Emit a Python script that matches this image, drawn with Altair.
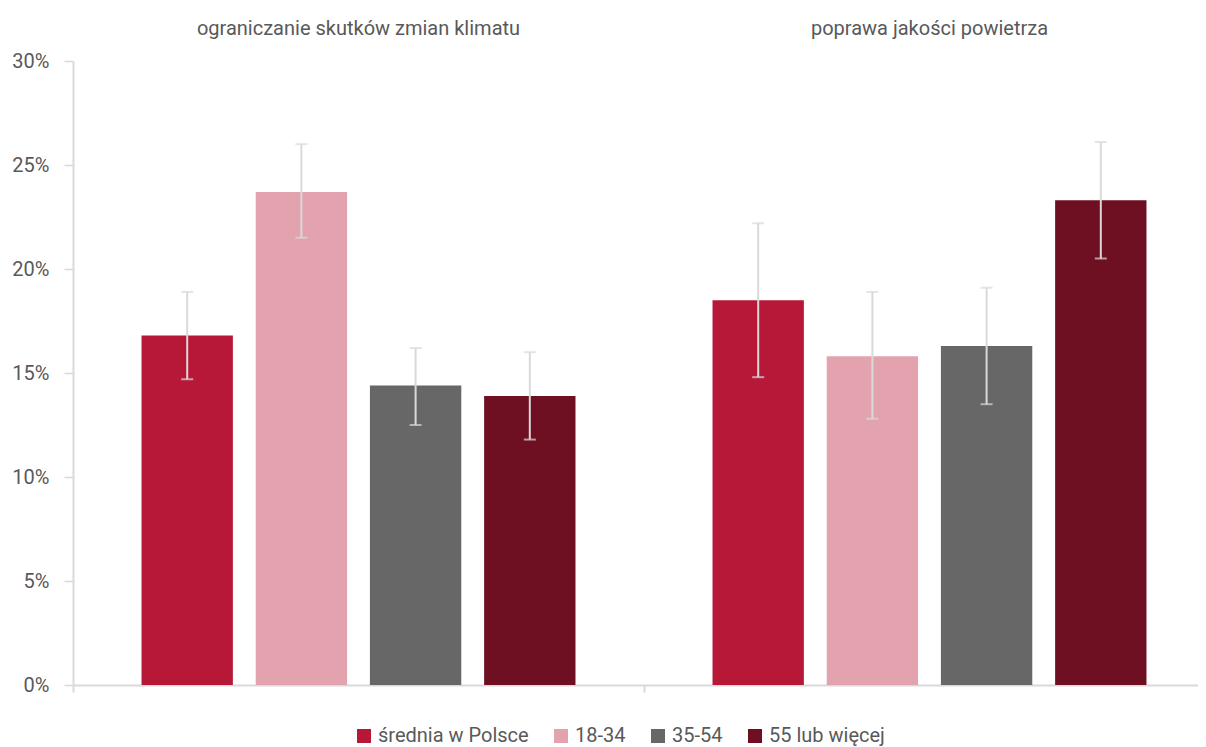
import altair as alt
import pandas as pd

groups = ["ograniczanie skutków zmian klimatu", "poprawa jakości powietrza"]
series = ["średnia w Polsce", "18-34", "35-54", "55 lub więcej"]
colors = ["#B71838", "#E2A3AF", "#676767", "#6E0F22"]

value_g1 = [16.8, 23.7, 14.4, 13.9]
low_g1 = [14.7, 21.5, 12.5, 11.8]
high_g1 = [18.9, 26.0, 16.2, 16.0]

value_g2 = [18.5, 15.8, 16.3, 23.3]
low_g2 = [14.8, 12.8, 13.5, 20.5]
high_g2 = [22.2, 18.9, 19.1, 26.1]

y_ticks = [0, 5, 10, 15, 20, 25, 30]

rows = []
for g, vals, lows, highs in [
    (groups[0], value_g1, low_g1, high_g1),
    (groups[1], value_g2, low_g2, high_g2),
]:
    for s, v, lo, hi in zip(series, vals, lows, highs):
        rows.append({"group": g, "series": s, "value": v, "low": lo, "high": hi})
df = pd.DataFrame(rows)

FONT = "Roboto"
TEXT = "#595959"
GRID = "#D9D9D9"

x_scale = alt.Scale(domain=groups, range=[0, 1142], paddingInner=0, paddingOuter=0)
xo_scale = alt.Scale(domain=series, paddingInner=0.2, paddingOuter=0.6)
y_scale = alt.Scale(domain=[0, 30], nice=False)
y_axis = alt.Axis(
    title=None, values=y_ticks, labelExpr="datum.value + '%'", grid=False,
    domainColor=GRID, domainWidth=2, tickColor=GRID, tickWidth=1.5, tickSize=9,
    labelPadding=15, labelFont=FONT, labelFontSize=20, labelColor=TEXT,
)

base = alt.Chart(df)

bars = base.mark_bar().encode(
    x=alt.X("group:N", scale=x_scale, sort=groups,
            axis=alt.Axis(orient="top", title=None, domain=False, ticks=False,
                          labelPadding=23, labelAngle=0, labelLimit=0,
                          labelFont=FONT, labelFontSize=20, labelColor=TEXT)),
    xOffset=alt.XOffset("series:N", scale=xo_scale, sort=series),
    y=alt.Y("value:Q", scale=y_scale, axis=y_axis),
    color=alt.Color("series:N", sort=series,
                    scale=alt.Scale(domain=series, range=colors),
                    legend=alt.Legend(orient="none", legendX=281, legendY=665,
                                      direction="horizontal", columns=4, title=None,
                                      symbolType="square", symbolSize=196,
                                      symbolStrokeWidth=0, labelFont=FONT,
                                      labelFontSize=20, labelColor=TEXT,
                                      columnPadding=22, labelOffset=4)),
)

rules = base.mark_rule(color=GRID, strokeWidth=2).encode(
    x=alt.X("group:N", scale=x_scale, sort=groups,
            axis=alt.Axis(orient="bottom", title=None, labels=False,
                          domainColor=GRID, domainWidth=2, tickColor=GRID,
                          tickWidth=2, tickSize=7, bandPosition=0)),
    xOffset=alt.XOffset("series:N", scale=xo_scale, sort=series),
    y=alt.Y("low:Q", scale=y_scale, axis=y_axis),
    y2="high:Q",
)

cap_hi = base.mark_tick(color=GRID, thickness=2, size=12).encode(
    x=alt.X("group:N", scale=x_scale, sort=groups, axis=None),
    xOffset=alt.XOffset("series:N", scale=xo_scale, sort=series),
    y=alt.Y("high:Q", scale=y_scale, axis=y_axis),
)
cap_lo = base.mark_tick(color=GRID, thickness=2, size=12).encode(
    x=alt.X("group:N", scale=x_scale, sort=groups, axis=None),
    xOffset=alt.XOffset("series:N", scale=xo_scale, sort=series),
    y=alt.Y("low:Q", scale=y_scale, axis=y_axis),
)

chart = (
    alt.layer(bars, rules, cap_hi, cap_lo)
    .resolve_axis(x="independent")
    .properties(
        width=1125, height=624,
        autosize=alt.AutoSizeParams(type="none"),
        padding={"left": 65, "top": 53, "right": 0, "bottom": 66},
        background="white",
    )
    .configure_view(stroke=None)
)

chart.save("out.html", embed_options={"renderer": "svg", "actions": False})
